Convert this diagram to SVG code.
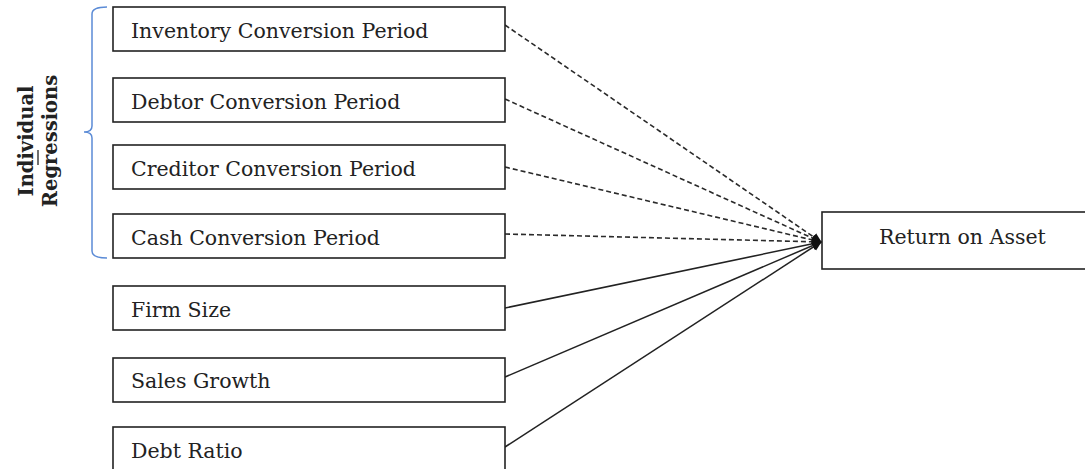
<svg xmlns="http://www.w3.org/2000/svg" width="1085" height="469" viewBox="0 0 1085 469">
<style>
.box{fill:#fff;stroke:#222;stroke-width:1.6}
.t{font-family:"DejaVu Serif","Liberation Serif",serif;font-size:20.5px;fill:#222}
.lbl{font-family:"DejaVu Serif","Liberation Serif",serif;font-size:19.5px;font-weight:bold;fill:#222}
.dash{stroke:#2a2a2a;stroke-width:1.6;stroke-dasharray:5,3;fill:none}
.solid{stroke:#222;stroke-width:1.5;fill:none}
</style>
<defs>
<marker id="ah" markerWidth="10" markerHeight="10" refX="9" refY="5" orient="auto" markerUnits="userSpaceOnUse">
<path d="M0,0.5 L10,5 L0,9.5 Z" fill="#111"/>
</marker>
</defs>
<rect width="1085" height="469" fill="#fff"/>
<g id="label">
<text class="lbl" transform="translate(33,141) rotate(-90)" text-anchor="middle">Individual</text>
<line x1="38" y1="150" x2="38" y2="165" stroke="#222" stroke-width="1.3"/>
<text class="lbl" transform="translate(57,141) rotate(-90)" text-anchor="middle">Regressions</text>
</g>
<g id="bracket">
<path d="M107,7 Q92,7 92,14 L92,126 Q92,132 84,132 Q92,132 92,138 L92,251 Q92,258 107,258" fill="none" stroke="#5b8bd6" stroke-width="1.5"/>
</g>
<g id="connectors">
<line class="dash" x1="505" y1="25" x2="821" y2="242" marker-end="url(#ah)"/>
<line class="dash" x1="505" y1="99" x2="821" y2="242" marker-end="url(#ah)"/>
<line class="dash" x1="505" y1="167" x2="821" y2="242" marker-end="url(#ah)"/>
<line class="dash" x1="505" y1="234" x2="821" y2="242" marker-end="url(#ah)"/>
<line class="solid" x1="505" y1="308" x2="821" y2="242" marker-end="url(#ah)"/>
<line class="solid" x1="505" y1="377" x2="821" y2="242" marker-end="url(#ah)"/>
<line class="solid" x1="505" y1="447" x2="821" y2="242" marker-end="url(#ah)"/>
</g>
<g id="n1"><rect class="box" x="113" y="7" width="392" height="44"/><text class="t" x="131" y="38">Inventory Conversion Period</text></g>
<g id="n2"><rect class="box" x="113" y="78" width="392" height="44"/><text class="t" x="131" y="109">Debtor Conversion Period</text></g>
<g id="n3"><rect class="box" x="113" y="145" width="392" height="44"/><text class="t" x="131" y="176">Creditor Conversion Period</text></g>
<g id="n4"><rect class="box" x="113" y="214" width="392" height="44"/><text class="t" x="131" y="245">Cash Conversion Period</text></g>
<g id="n5"><rect class="box" x="113" y="286" width="392" height="44"/><text class="t" x="131" y="317">Firm Size</text></g>
<g id="n6"><rect class="box" x="113" y="358" width="392" height="44"/><text class="t" x="131" y="388">Sales Growth</text></g>
<g id="n7"><rect class="box" x="113" y="427" width="392" height="50"/><text class="t" x="131" y="458">Debt Ratio</text></g>
<g id="roa"><rect class="box" x="822" y="212" width="270" height="57"/><text class="t" x="879" y="244">Return on Asset</text></g>
</svg>
